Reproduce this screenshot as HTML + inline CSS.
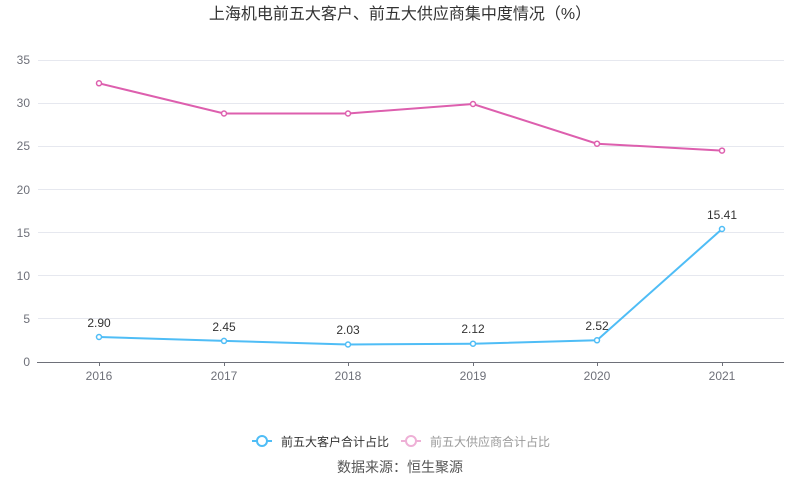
<!DOCTYPE html><html><head><meta charset="utf-8"><style>body{margin:0;background:#fff}svg{display:block;font-family:"Liberation Sans","Noto Sans CJK SC",sans-serif}</style></head><body>
<svg width="800" height="501" viewBox="0 0 800 501">
<text x="400" y="19" text-anchor="middle" font-size="16" fill="#333">上海机电前五大客户、前五大供应商集中度情况（%）</text>
<g stroke="#e6e8ef" stroke-width="1">
<line x1="38" x2="784" y1="60.5" y2="60.5"/><line x1="38" x2="784" y1="103.5" y2="103.5"/><line x1="38" x2="784" y1="146.5" y2="146.5"/><line x1="38" x2="784" y1="189.5" y2="189.5"/><line x1="38" x2="784" y1="232.5" y2="232.5"/><line x1="38" x2="784" y1="275.5" y2="275.5"/><line x1="38" x2="784" y1="318.5" y2="318.5"/></g>
<line x1="37" x2="784" y1="362.5" y2="362.5" stroke="#6e7079"/>
<g stroke="#6e7079"><line x1="99.5" x2="99.5" y1="362" y2="366"/><line x1="224.5" x2="224.5" y1="362" y2="366"/><line x1="348.5" x2="348.5" y1="362" y2="366"/><line x1="473.5" x2="473.5" y1="362" y2="366"/><line x1="597.5" x2="597.5" y1="362" y2="366"/><line x1="722.5" x2="722.5" y1="362" y2="366"/></g>
<g font-size="12" fill="#6e7079" text-anchor="end"><text x="30" y="366">0</text><text x="30" y="323">5</text><text x="30" y="280">10</text><text x="30" y="237">15</text><text x="30" y="194">20</text><text x="30" y="150">25</text><text x="30" y="107">30</text><text x="30" y="64">35</text></g>
<g font-size="12" fill="#6e7079" text-anchor="middle"><text x="99" y="380">2016</text><text x="224" y="380">2017</text><text x="348" y="380">2018</text><text x="473" y="380">2019</text><text x="597" y="380">2020</text><text x="722" y="380">2021</text></g>
<polyline fill="none" stroke="#dd5fae" stroke-width="2" points="99,83.3 224,113.5 348,113.5 473,104 597,143.7 722,150.6"/>
<g fill="#fff" stroke="#dd5fae" stroke-width="1.5"><circle cx="99" cy="83.3" r="2.5"/><circle cx="224" cy="113.5" r="2.5"/><circle cx="348" cy="113.5" r="2.5"/><circle cx="473" cy="104" r="2.5"/><circle cx="597" cy="143.7" r="2.5"/><circle cx="722" cy="150.6" r="2.5"/></g>
<polyline fill="none" stroke="#4fbdf6" stroke-width="2" points="99,337 224,340.9 348,344.5 473,343.7 597,340.3 722,229"/>
<g fill="#fff" stroke="#4fbdf6" stroke-width="1.5"><circle cx="99" cy="337" r="2.5"/><circle cx="224" cy="340.9" r="2.5"/><circle cx="348" cy="344.5" r="2.5"/><circle cx="473" cy="343.7" r="2.5"/><circle cx="597" cy="340.3" r="2.5"/><circle cx="722" cy="229" r="2.5"/></g>
<g font-size="12" fill="#333" text-anchor="middle"><text x="99" y="327">2.90</text><text x="224" y="331">2.45</text><text x="348" y="334">2.03</text><text x="473" y="333">2.12</text><text x="597" y="330">2.52</text><text x="722" y="219">15.41</text></g>
<line x1="252" x2="272" y1="441" y2="441" stroke="#4fbdf6" stroke-width="2"/><circle cx="262" cy="441" r="5" fill="#fff" stroke="#4fbdf6" stroke-width="2"/>
<text x="281" y="446" font-size="12" fill="#333">前五大客户合计占比</text>
<line x1="401" x2="421" y1="441" y2="441" stroke="#eeb0d6" stroke-width="2"/><circle cx="411" cy="441" r="5" fill="#fff" stroke="#eeb0d6" stroke-width="2"/>
<text x="430" y="446" font-size="12" fill="#999">前五大供应商合计占比</text>
<text x="400" y="472" text-anchor="middle" font-size="14" fill="#555">数据来源：恒生聚源</text>
</svg></body></html>
